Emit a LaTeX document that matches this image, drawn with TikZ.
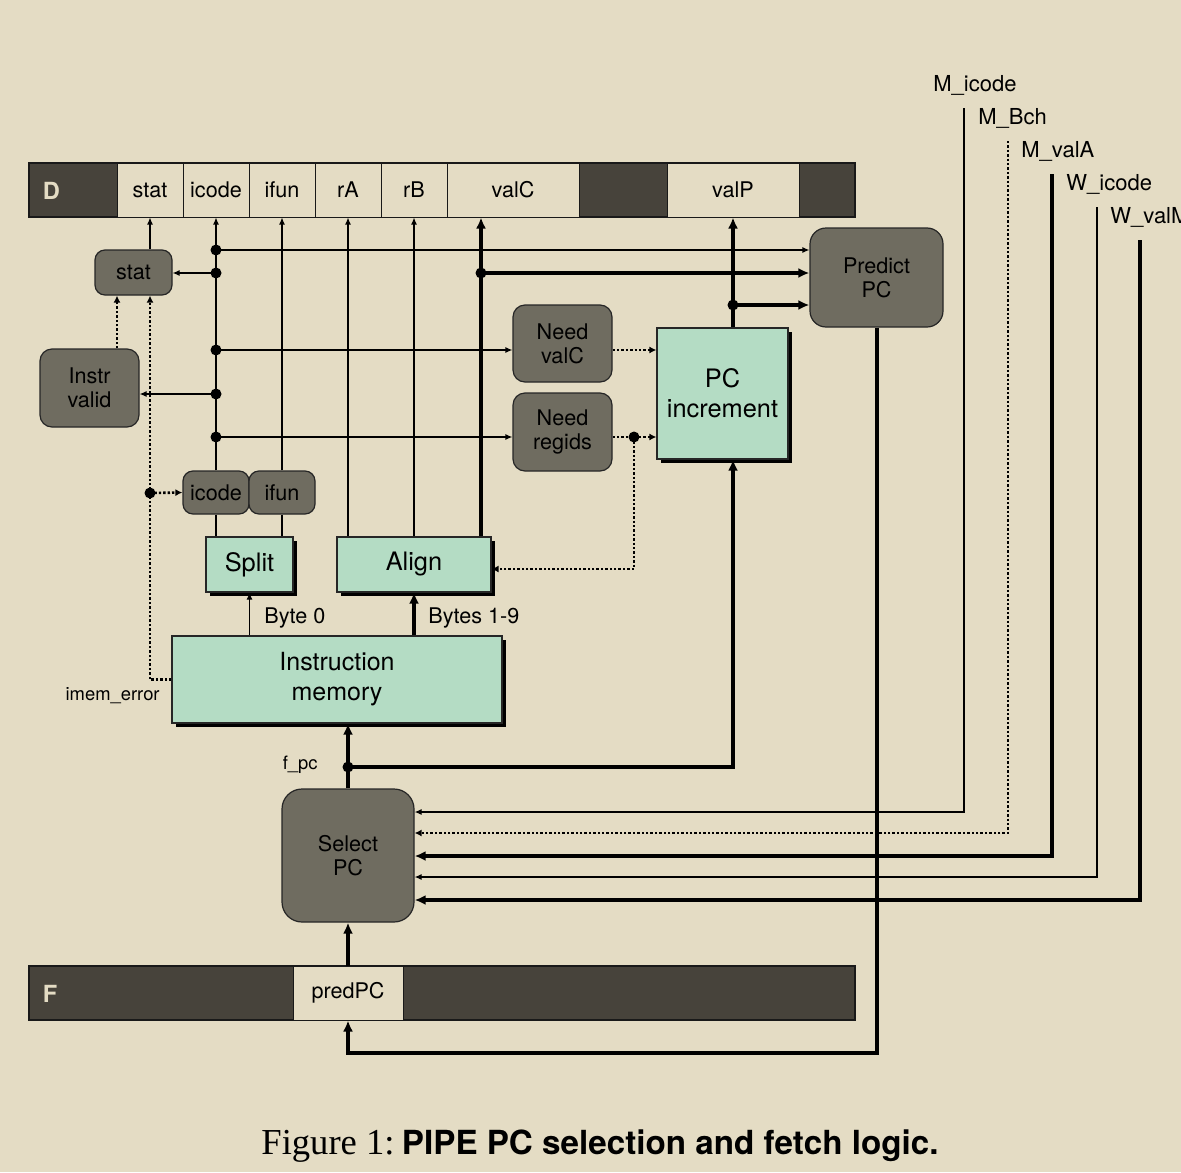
\documentclass[tikz,border=0pt]{standalone}
\usepackage{fontspec}
\setmainfont{TeX Gyre Heros}
\newfontfamily\capserif{Liberation Serif}
\usetikzlibrary{arrows.meta,shadows,calc}
\definecolor{bgc}{HTML}{E4DCC4}
\definecolor{regdark}{HTML}{47433B}
\definecolor{boxgray}{HTML}{6F6C60}
\definecolor{hwgreen}{HTML}{B4DCC4}
\begin{document}
\begin{tikzpicture}[x=0.5pt,y=-0.5pt,
  lbl/.style={font=\fontsize{10.8}{12}\selectfont},
  biglbl/.style={font=\fontsize{12.7}{15}\selectfont},
  smalllbl/.style={font=\fontsize{9.2}{10}\selectfont,inner sep=0},
  siglbl/.style={font=\fontsize{11}{12}\selectfont,inner sep=0,anchor=west},
  regbar/.style={draw=black!90,line width=0.6pt,fill=regdark,inner sep=0,minimum height=27pt},
  field/.style={draw=black!90,line width=0.5pt,fill=bgc,inner sep=0,minimum height=27pt,minimum width=33pt,lbl},
  reglbl/.style={text=bgc,font=\bfseries\fontsize{11.8}{12}\selectfont},
  logic/.style={draw=black!85,line width=0.6pt,fill=boxgray,rounded corners=5pt,inner sep=0,align=center,lbl},
  hw/.style={draw=black!85,line width=0.6pt,fill=hwgreen,inner sep=0,align=center,biglbl,
     drop shadow={shadow xshift=2pt,shadow yshift=-2pt,opacity=1,fill=black}},
  wire/.style={line width=0.6pt},
  bus/.style={line width=2pt},
  ctl/.style={line width=1.3pt,dash pattern=on 1.2pt off 1pt},
  ar/.style={-{Latex[length=3.5pt,width=3pt]}},
  bar/.style={-{Latex[length=5.5pt,width=5pt]}},
  car/.style={-{Latex[length=3.5pt,width=3.5pt]}}
]
\fill[bgc] (0,0) rectangle (1181,1172);
\useasboundingbox (0,0) rectangle (1181,1172);

% ---------- D register
\node[regbar,minimum width=413pt] (Dreg) at (442,190) {};
\node[reglbl] (Dlbl) at (51.5,191) {D};
\node[field] (Dstat) at (150,190) {stat};
\node[field] (Dicode) at (216,190) {icode};
\node[field] (Difun) at (282,190) {ifun};
\node[field] (DrA) at (348,190) {rA};
\node[field] (DrB) at (414,190) {rB};
\node[field,minimum width=66pt] (DvalC) at (513,190) {valC};
\node[field,minimum width=66pt] (DvalP) at (733,190) {valP};

% ---------- F register
\node[regbar,minimum width=413pt] (Freg) at (442,993) {};
\node[reglbl] (Flbl) at (50,994) {F};
\node[field,minimum width=55pt] (FpredPC) at (348,993) {predPC};

% ---------- logic blocks
\node[logic,minimum width=38.5pt,minimum height=22.5pt] (stat) at (133.5,272.5) {stat};
\node[logic,minimum width=49.5pt,minimum height=39pt,rounded corners=6pt] (ivalid) at (89.5,388) {Instr\\valid};
\node[logic,minimum width=33pt,minimum height=21.5pt] (icodeS) at (216,492.5) {icode};
\node[logic,minimum width=33pt,minimum height=21.5pt] (ifunS) at (282,492.5) {ifun};
\node[logic,minimum width=49.5pt,minimum height=38.5pt,rounded corners=6pt] (nvc) at (562.5,343.5) {Need\\valC};
\node[logic,minimum width=49.5pt,minimum height=39pt,rounded corners=6pt] (nreg) at (562.5,432) {Need\\regids};
\node[logic,minimum width=66.5pt,minimum height=49.5pt,rounded corners=8pt] (pred) at (876.5,277.5) {Predict\\PC};
\node[logic,minimum width=66pt,minimum height=66.5pt,rounded corners=10pt] (selpc) at (348,855.5) {Select\\PC};

% ---------- hardware blocks
\node[hw,minimum width=43.5pt,minimum height=27.5pt] (split) at (249.5,564.5) {Split};
\node[hw,minimum width=77pt,minimum height=27.5pt] (align) at (414,564.5) {Align};
\node[hw,minimum width=165pt,minimum height=43.5pt,font=\fontsize{12.5}{15}\selectfont] (imem) at (337,679.5) {Instruction\\memory};
\node[hw,minimum width=65.5pt,minimum height=65.5pt] (pcinc) at (722.5,393.5) {PC\\increment};

% ---------- guide coordinates
\coordinate (c117) at (117,0);
\coordinate (c481) at (481,0);
\coordinate (j1) at (216,250);
\coordinate (j2) at (216,273);
\coordinate (j3) at (216,350);
\coordinate (j4) at (216,394);
\coordinate (j5) at (216,437);
\coordinate (jv) at (481,273);
\coordinate (jp) at (733,305);
\coordinate (jr) at (634,437);
\coordinate (jm) at (150,493);
\coordinate (fpc) at (348,767);
\coordinate (r569) at (0,569);
\coordinate (r1053) at (0,1053);

% ---------- D-side wires
\draw[wire,ar] (stat.north -| Dstat.south) -- (Dstat.south);
\draw[wire,ar] (icodeS.north) -- (Dicode.south);
\draw[wire,ar] (ifunS.north) -- (Difun.south);
\draw[wire] (icodeS.south) -- (icodeS.south |- split.north);
\draw[wire] (ifunS.south) -- (ifunS.south |- split.north);
\draw[wire,ar] (align.north -| DrA.south) -- (DrA.south);
\draw[wire,ar] (align.north -| DrB.south) -- (DrB.south);
\draw[bus,bar] (align.north -| c481) -- (DvalC.south -| c481);

\draw[wire,ar] (j1) -- (j1 -| pred.west);
\draw[wire,ar] (j2) -- (j2 -| stat.east);
\draw[wire,ar] (j3) -- (j3 -| nvc.west);
\draw[wire,ar] (j4) -- (j4 -| ivalid.east);
\draw[wire,ar] (j5) -- (j5 -| nreg.west);
\draw[bus,bar] (jv) -- (jv -| pred.west);
\draw[bus,bar] (pcinc.north -| DvalP.south) -- (DvalP.south);
\draw[bus,bar] (jp) -- (jp -| pred.west);
\foreach \p in {j1,j2,j3,j4,j5,jv,jp} \fill (\p) circle (2.75pt);

% ---------- control (dotted)
\draw[ctl,car] (j3 -| nvc.east) -- (j3 -| pcinc.west);
\draw[ctl,car] (j5 -| nreg.east) -- (j5 -| pcinc.west);
\draw[ctl,car] (jr) -- (jr |- r569) -- (r569 -| align.east);
\fill (jr) circle (2.75pt);
\draw[ctl,car] (imem.west) -- (imem.west -| Dstat.south) -- (stat.south -| Dstat.south);
\draw[ctl,car] (jm) -- (icodeS.west);
\fill (jm) circle (2.75pt);
\draw[ctl,car] (ivalid.north -| c117) -- (stat.south -| c117);
\node[smalllbl,anchor=east] (imerr) at (160,696) {imem\_error};

% ---------- memory outputs
\draw[wire,ar] (imem.north -| split.south) -- (split.south);
\draw[bus,bar] (imem.north -| align.south) -- (align.south);
\node[lbl,inner sep=0,anchor=west] (byte0) at (264,618) {Byte 0};
\node[lbl,inner sep=0,anchor=west] (bytes) at (428,618) {Bytes 1-9};

% ---------- select PC / f_pc
\draw[bus,bar] (selpc.north) -- (selpc.north |- imem.south);
\draw[bus,bar] (fpc) -- (fpc -| DvalP.south) -- (pcinc.south -| DvalP.south);
\fill (fpc) circle (2.75pt);
\node[smalllbl,anchor=east] (fpclbl) at (318,765) {f\_pc};
\draw[bus,bar] (FpredPC.north) -- (selpc.south);

% ---------- forwarded signals
\node[siglbl] (lMi) at (933,85) {M\_icode};
\node[siglbl] (lMb) at (978,118) {M\_Bch};
\node[siglbl] (lMv) at (1021,151) {M\_valA};
\node[siglbl] (lWi) at (1066,184) {W\_icode};
\node[siglbl] (lWv) at (1110,217) {W\_valM};
\coordinate (sMi) at (964,108);
\coordinate (sMb) at (1008,141);
\coordinate (sMv) at (1052,174);
\coordinate (sWi) at (1097,207);
\coordinate (sWv) at (1140,240);
\draw[wire,ar] (sMi) -- (964,812) -- (selpc.east |- 0,812);
\draw[ctl,car] (sMb) -- (1008,833) -- (selpc.east |- 0,833);
\draw[bus,bar] (sMv) -- (1052,856) -- (selpc.east |- 0,856);
\draw[wire,ar] (sWi) -- (1097,877) -- (selpc.east |- 0,877);
\draw[bus,bar] (sWv) -- (1140,900) -- (selpc.east |- 0,900);

% ---------- predicted PC feedback
\draw[bus,bar] (pred.south) -- (pred.south |- r1053) -- (r1053 -| FpredPC.south) -- (FpredPC.south);

% ---------- caption
\node[anchor=base west,inner sep=0] (cap) at (261,1154)
  {{\capserif\fontsize{18.3}{20}\selectfont Figure 1:} {\bfseries\fontsize{16.6}{20}\selectfont PIPE PC selection and fetch logic.}};
\end{tikzpicture}
\end{document}
